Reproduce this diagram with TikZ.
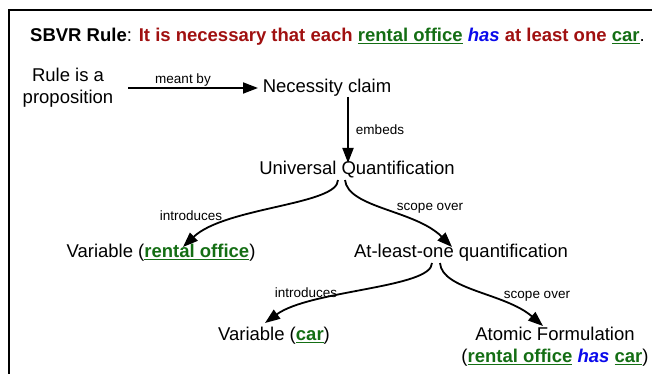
\documentclass[tikz,border=0pt]{standalone}
\usepackage{fontspec}
\setmainfont{Liberation Sans}
\usetikzlibrary{arrows.meta}
\definecolor{rulered}{RGB}{160,16,16}
\definecolor{termgreen}{RGB}{20,110,20}
\definecolor{verbblue}{RGB}{10,10,235}
\newcommand{\term}[1]{\textcolor{termgreen}{\textbf{\underline{#1}}}}
\newcommand{\verbx}[1]{\textcolor{verbblue}{\textbf{\textit{#1}}}}
\tikzset{
  concept/.style={inner sep=0pt, font=\fontsize{18.5}{22}\selectfont, align=center},
  lbl/.style={inner sep=0pt, font=\fontsize{13.5}{16}\selectfont},
  arr/.style={line width=1.8pt, -{Triangle[length=15pt,width=11pt]}},
}
\begin{document}
\begin{tikzpicture}[x=1pt,y=-1pt]
\useasboundingbox (0,0) rectangle (652,374);
\draw[line width=2pt] (9,10) -- (9,380);
\draw[line width=2pt] (8,10) -- (660,10);
\node[concept, anchor=west, font=\fontsize{18.5}{22}\selectfont] (title) at (30,37)
  {\textbf{SBVR Rule}: \textcolor{rulered}{\textbf{It is necessary that each}} \term{rental office} \verbx{has} \textcolor{rulered}{\textbf{at least one}} \term{car}.};
\node[concept] (rule) at (68,88) {Rule is a\\proposition};
\node[concept] (nec) at (327,88) {Necessity claim};
\node[concept] (uq) at (357,170) {Universal Quantification};
\node[concept] (varro) at (161,253) {Variable (\term{rental office})};
\node[concept] (alo) at (461,253) {At-least-one quantification};
\node[concept] (varcar) at (274,336) {Variable (\term{car})};
\node[concept] (atomic) at (555,347) {Atomic Formulation\\(\term{rental office} \verbx{has} \term{car})};
% connectors
\draw[arr] ([shift={(60,0)}]rule.center) -- ([shift={(-69,0)}]nec.center);
\node[lbl] (l1) at (183,80) {meant by};
\draw[arr] ([shift={(21,9)}]nec.center) -- ([shift={(-9,-7)}]uq.center);
\node[lbl] (l2) at (380,130) {embeds};
\draw[arr] ([shift={(-19,10)}]uq.center) .. controls +(0,25) and +(42,-40) .. ([shift={(22,-6)}]varro.center);
\node[lbl] (l3) at (191,216) {introduces};
\draw[arr] ([shift={(-12,10)}]uq.center) .. controls +(3,28) and +(-37,-37) .. ([shift={(-9,-6)}]alo.center);
\node[lbl] (l4) at (430,208) {scope over};
\draw[arr] ([shift={(-29,10)}]alo.center) .. controls +(0,25) and +(45,-33) .. ([shift={(-9,-13)}]varcar.center);
\node[lbl] (l5) at (306,293) {introduces};
\draw[arr] ([shift={(-21,10)}]alo.center) .. controls +(2,27) and +(-38,-33) .. ([shift={(-12,-21)}]atomic.center);
\node[lbl] (l6) at (537,296) {scope over};
\end{tikzpicture}
\end{document}
